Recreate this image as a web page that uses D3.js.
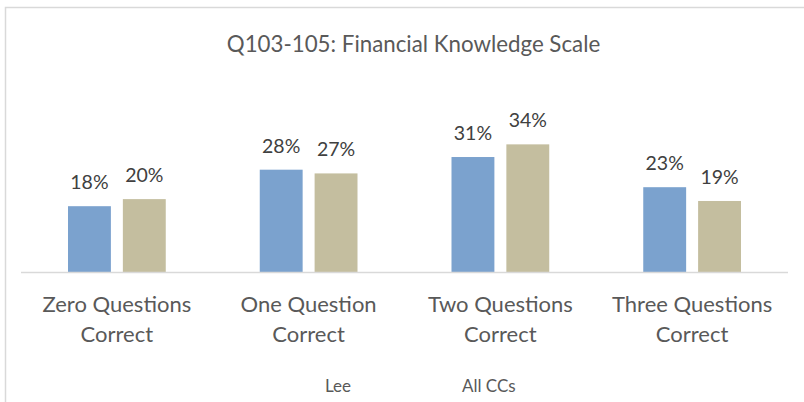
<!DOCTYPE html>
<html>
<head>
<meta charset="utf-8">
<script src="https://cdn.jsdelivr.net/npm/d3@7"></script>
<style>
  body { margin: 0; background: #fff; }
  svg { display: block; }
  text { font-family: Lato, "Open Sans", sans-serif; fill: #595959; }
</style>
</head>
<body>
<div id="chart"></div>
<script>
// Chart data
const categories = [
    ['Zero Questions', 'Correct'],
    ['One Question', 'Correct'],
    ['Two Questions', 'Correct'],
    ['Three Questions', 'Correct']
];
const seriesNames  = ['Lee', 'All CCs'];
const leeValues    = [0.178, 0.276, 0.310, 0.229];
const allCCsValues = [0.197, 0.266, 0.344, 0.192];
const seriesColors = ['#7ba2ce', '#c4be9f'];
const title = 'Q103-105: Financial Knowledge Scale';

const width = 804, height = 402;
const plot = { left: 21, right: 788, baseline: 272.5 };

const svg = d3.select('#chart').append('svg')
    .attr('width', width)
    .attr('height', height);

// Outer chart border (only top and left show in the crop)
svg.append('path')
    .attr('d', `M5.5,${height} V7.5 H${width}`)
    .attr('fill', 'none')
    .attr('stroke', '#d9d9d9')
    .attr('stroke-width', 1.5);

// Scales
const x0 = d3.scaleBand()
    .domain(d3.range(categories.length))
    .range([plot.left, plot.right]);

const x1 = d3.scaleBand()
    .domain(d3.range(seriesNames.length))
    .range([47, x0.bandwidth() - 47])
    .paddingInner(12 / 55);

const y = d3.scaleLinear()
    .domain([0, 0.4])
    .range([plot.baseline, plot.baseline - 149]);

const rows = categories.map((c, i) => ({
    index: i,
    values: [leeValues[i], allCCsValues[i]]
}));

// Bars + data labels
const groups = svg.selectAll('g.group')
    .data(rows)
    .join('g')
    .attr('class', 'group')
    .attr('transform', d => `translate(${x0(d.index)},0)`);

groups.selectAll('rect')
    .data(d => d.values.map((v, s) => ({ v, s })))
    .join('rect')
    .attr('x', d => x1(d.s))
    .attr('width', x1.bandwidth())
    .attr('y', d => y(d.v))
    .attr('height', d => y(0) - y(d.v))
    .attr('fill', d => seriesColors[d.s]);

groups.selectAll('text.label')
    .data(d => d.values.map((v, s) => ({ v, s })))
    .join('text')
    .attr('class', 'label')
    .attr('x', d => x1(d.s) + x1.bandwidth() / 2)
    .attr('y', d => y(d.v) - 17)
    .attr('text-anchor', 'middle')
    .style('font-size', '19.5px')
    .style('fill', '#404040')
    .text(d => d3.format('.0%')(d.v));

// Category axis line
svg.append('line')
    .attr('x1', plot.left).attr('x2', plot.right)
    .attr('y1', plot.baseline).attr('y2', plot.baseline)
    .attr('stroke', '#d9d9d9')
    .attr('stroke-width', 1.5);

// Category labels (two lines each)
const catLabels = svg.selectAll('text.cat')
    .data(categories)
    .join('text')
    .attr('class', 'cat')
    .attr('text-anchor', 'middle')
    .style('font-size', '22px');

catLabels.selectAll('tspan')
    .data((d, i) => d.map((line, j) => ({ line, j, i })))
    .join('tspan')
    .attr('x', d => x0(d.i) + x0.bandwidth() / 2)
    .attr('y', d => 312 + d.j * 30)
    .text(d => d.line);

// Title
svg.append('text')
    .attr('x', 413.5)
    .attr('y', 52)
    .attr('text-anchor', 'middle')
    .style('font-size', '22.3px')
    .text(title);

// Legend (text only)
const legendX = [325, 462];
svg.selectAll('text.legend')
    .data(seriesNames)
    .join('text')
    .attr('class', 'legend')
    .attr('x', (d, i) => legendX[i])
    .attr('y', 392)
    .style('font-size', '17px')
    .text(d => d);
</script>
</body>
</html>
